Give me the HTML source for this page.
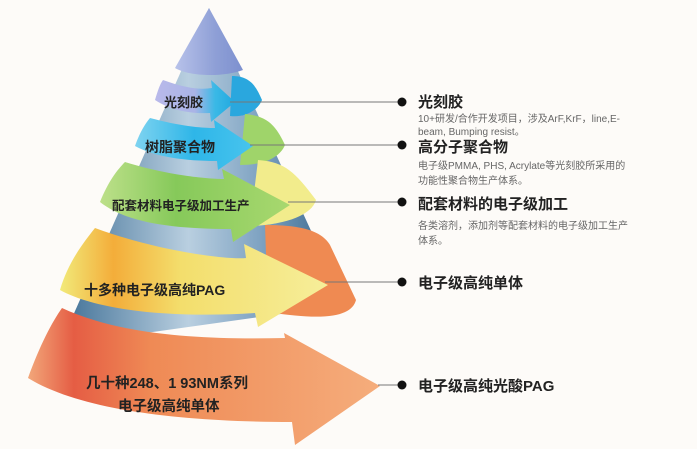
<!DOCTYPE html>
<html><head><meta charset="utf-8"><style>
html,body{margin:0;padding:0;background:#fdfbf8;}
svg{display:block;}
.t{font-family:"Liberation Sans","Noto Sans CJK SC",sans-serif;}
</style></head><body>
<svg width="697" height="449" viewBox="0 0 697 449" xmlns="http://www.w3.org/2000/svg">
<defs>
<linearGradient id="cone" x1="0" x2="1"><stop offset="0" stop-color="#3f6f95"/><stop offset="0.45" stop-color="#b9cfe0"/><stop offset="0.7" stop-color="#7fa3c2"/><stop offset="1" stop-color="#2f5f86"/></linearGradient>
<linearGradient id="top" x1="0" x2="1"><stop offset="0" stop-color="#b8c2ea"/><stop offset="0.6" stop-color="#8e9fd6"/><stop offset="1" stop-color="#7d90cf"/></linearGradient>
<linearGradient id="g1" x1="0" x2="1"><stop offset="0" stop-color="#b9b9ea"/><stop offset="0.5" stop-color="#a9b4e6"/><stop offset="0.75" stop-color="#3ab9e6"/><stop offset="1" stop-color="#20a8e0"/></linearGradient>
<linearGradient id="g2" x1="0" x2="1"><stop offset="0" stop-color="#7fd3f0"/><stop offset="0.5" stop-color="#2eb6e8"/><stop offset="1" stop-color="#48c4ee"/></linearGradient>
<linearGradient id="g3" x1="0" x2="1"><stop offset="0" stop-color="#bde08a"/><stop offset="0.4" stop-color="#86c95a"/><stop offset="1" stop-color="#a8d86f"/></linearGradient>
<linearGradient id="g4" x1="0" x2="1"><stop offset="0" stop-color="#f2ea7a"/><stop offset="0.2" stop-color="#f3ad3a"/><stop offset="0.45" stop-color="#f3de6c"/><stop offset="1" stop-color="#f6ee9a"/></linearGradient>
<linearGradient id="g5" x1="0" x2="1"><stop offset="0" stop-color="#f2a77a"/><stop offset="0.13" stop-color="#e55d44"/><stop offset="0.35" stop-color="#ef8a55"/><stop offset="1" stop-color="#f5ad7c"/></linearGradient>
</defs>
<!-- cone interior -->
<path d="M209,8 L345,305 L60,345 Z" fill="url(#cone)"/>
<path d="M209,8 L243,70 C225,77 190,77 175,68 Z" fill="url(#top)"/>
<!-- tails -->
<path d="M232,76 C250,76 256,86 262,100 C258,110 245,118 230,116 Z" fill="#2aa7de"/>
<path d="M245,114 C268,116 276,126 285,145 C280,157 265,165 240,165 Z" fill="#9fd46a"/>
<path d="M258,160 C285,162 295,172 316,200 C312,215 285,225 250,226 Z" fill="#f2ec8c"/>
<path d="M265,225 C305,225 322,232 330,245 L356,300 C352,315 330,322 268,312 Z" fill="#ef8a52"/>
<!-- bands -->
<path d="M155,100 C158,90 160,84 163,80 C185,88 200,90 212,88 L211,80 L235,102 L211,122 L210,113 C190,114 170,110 155,100Z" fill="url(#g1)"/>
<path d="M135,146 C140,132 145,124 150,118 C180,126 200,128 215,128 L214,120 L253,146 L218,170 L217,161 C185,161 155,157 135,146 Z" fill="url(#g2)"/>
<path d="M100,202 C108,182 117,170 125,162 C170,176 210,179 224,179 L222,169 L290,205 L233,242 L231,229 C170,229 125,222 100,202 Z" fill="url(#g3)"/>
<path d="M60,290 C68,262 84,242 95,228 C160,252 230,260 246,258 L244,244 L328,285 L258,327 L255,313 C180,318 100,312 60,290 Z" fill="url(#g4)"/>
<path d="M28,378 C40,345 52,322 62,308 C120,335 200,340 285,338 L284,333 L380,386 L295,445 L292,422 C180,422 80,410 28,378 Z" fill="url(#g5)"/>
<!-- band text -->
<g class="t" font-weight="bold" fill="#222">
<text x="164" y="107" font-size="13">光刻胶</text>
<text x="145" y="152" font-size="14">树脂聚合物</text>
<text x="112" y="210" font-size="12.5">配套材料电子级加工生产</text>
<text x="84" y="295" font-size="14">十多种电子级高纯PAG</text>
<text x="86" y="388" font-size="14.5">几十种248、1 93NM系列</text>
<text x="118" y="411" font-size="14.5">电子级高纯单体</text>
</g>
<!-- connectors -->
<g stroke="#777" stroke-width="1">
<line x1="230" y1="102" x2="398" y2="102"/>
<line x1="250" y1="145" x2="398" y2="145"/>
<line x1="288" y1="202" x2="398" y2="202"/>
<line x1="325" y1="282" x2="398" y2="282"/>
<line x1="378" y1="385" x2="398" y2="385"/>
</g>
<g fill="#111">
<circle cx="402" cy="102" r="4.5"/><circle cx="402" cy="145" r="4.5"/><circle cx="402" cy="202" r="4.5"/><circle cx="402" cy="282" r="4.5"/><circle cx="402" cy="385" r="4.5"/>
</g>
<g class="t">
<text x="418" y="107" font-size="15" font-weight="bold" fill="#222">光刻胶</text>
<text x="418" y="122" font-size="10" fill="#666">10+研发/合作开发项目，涉及ArF,KrF，line,E-</text>
<text x="418" y="135" font-size="10" fill="#666">beam, Bumping resist。</text>
<text x="418" y="152" font-size="15" font-weight="bold" fill="#222">高分子聚合物</text>
<text x="418" y="169" font-size="10" fill="#666">电子级PMMA, PHS, Acrylate等光刻胶所采用的</text>
<text x="418" y="184" font-size="10" fill="#666">功能性聚合物生产体系。</text>
<text x="418" y="209" font-size="15" font-weight="bold" fill="#222">配套材料的电子级加工</text>
<text x="418" y="229" font-size="10" fill="#666">各类溶剂，添加剂等配套材料的电子级加工生产</text>
<text x="418" y="244" font-size="10" fill="#666">体系。</text>
<text x="418" y="288" font-size="15" font-weight="bold" fill="#222">电子级高纯单体</text>
<text x="418" y="391" font-size="15" font-weight="bold" fill="#222">电子级高纯光酸PAG</text>
</g>
</svg>
</body></html>
